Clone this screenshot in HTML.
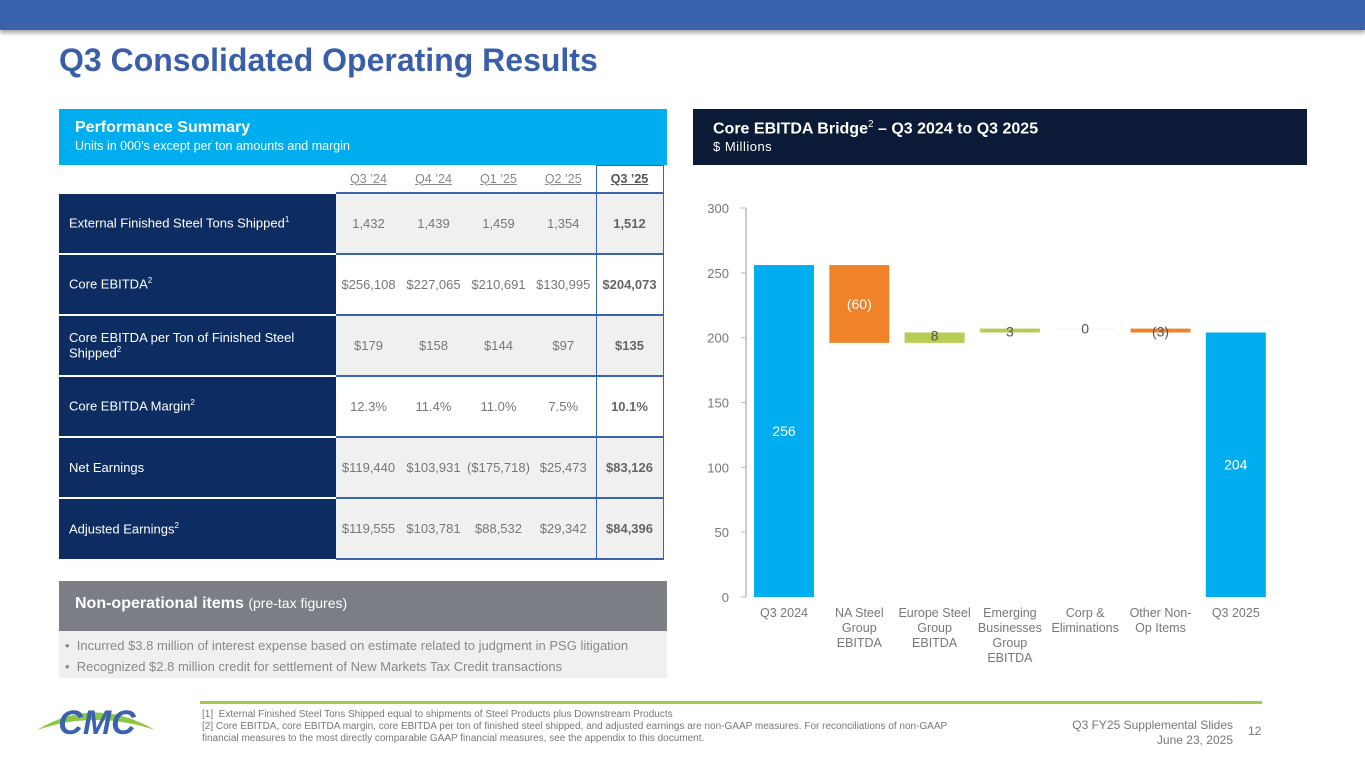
<!DOCTYPE html>
<html><head><meta charset="utf-8">
<style>
*{margin:0;padding:0;box-sizing:border-box}
body{width:1365px;height:768px;position:relative;background:#fff;font-family:"Liberation Sans",sans-serif;overflow:hidden}
.abs{position:absolute}
.topbar{left:0;top:0;width:1365px;height:30px;background:#3a62ad;box-shadow:0 3px 4px rgba(0,0,0,.35)}
.title{left:59px;top:42px;font-size:32px;font-weight:bold;color:#3a5ea8;letter-spacing:0}
.ps{left:59px;top:109px;width:608px;height:56px;background:#00aeef;color:#fff;padding:10px 16px}
.ps b{font-size:16px;display:block}
.ps span{font-size:12.5px}
table{position:absolute;left:59px;top:165px;border-collapse:collapse;font-size:13px;color:#777}
td,th{text-align:center;height:61px;padding:0}
th{height:27px;font-weight:normal;text-decoration:underline;color:#888;font-size:12.5px}
td.lab{width:277px;background:#0d2d62;color:#fff;text-align:left;padding-left:10px;border-top:2px solid #fff;font-size:13px}
td.d{width:65px;border-top:2px solid #3a62ad}
td.q{width:67px;font-weight:bold;color:#666;border-left:1.5px solid #3a62ad;border-right:1.5px solid #3a62ad;border-top:2px solid #3a62ad}
th.q{border:1.5px solid #3a62ad;border-bottom:none;font-weight:bold;color:#555}
tr.g td.d,tr.g td.q{background:#f0f0f0}
tr:last-child td.d,tr:last-child td.q{border-bottom:2px solid #3a62ad}
sup{font-size:8px}
.no{left:59px;top:581px;width:608px;height:50px;background:#7b7e84;color:#fff;padding:14px 16px;font-size:16px}
.nob{left:59px;top:631px;width:608px;height:47px;background:#f0f0f0;color:#888;font-size:13px;padding:4px 6px;line-height:21px}
.ch{left:693px;top:109px;width:614px;height:56px;background:#0b1a36;color:#fff;padding:10px 20px}
.ch b{font-size:16px;display:block}
.ch span{font-size:13px;letter-spacing:.5px}
.foot{font-size:10px;color:#777;line-height:12px}
</style></head><body>
<div class="abs topbar"></div>
<div class="abs title">Q3 Consolidated Operating Results</div>
<div class="abs ps"><b>Performance Summary</b><span>Units in 000’s except per ton amounts and margin</span></div>
<table>
<tr><th style="width:277px"></th><th>Q3 ’24</th><th>Q4 ’24</th><th>Q1 ’25</th><th>Q2 ’25</th><th class="q">Q3 ’25</th></tr>
<tr class="g"><td class="lab">External Finished Steel Tons Shipped<sup>1</sup></td><td class="d">1,432</td><td class="d">1,439</td><td class="d">1,459</td><td class="d">1,354</td><td class="q">1,512</td></tr>
<tr><td class="lab">Core EBITDA<sup>2</sup></td><td class="d">$256,108</td><td class="d">$227,065</td><td class="d">$210,691</td><td class="d">$130,995</td><td class="q">$204,073</td></tr>
<tr class="g"><td class="lab">Core EBITDA per Ton of Finished Steel<br>Shipped<sup>2</sup></td><td class="d">$179</td><td class="d">$158</td><td class="d">$144</td><td class="d">$97</td><td class="q">$135</td></tr>
<tr><td class="lab">Core EBITDA Margin<sup>2</sup></td><td class="d">12.3%</td><td class="d">11.4%</td><td class="d">11.0%</td><td class="d">7.5%</td><td class="q">10.1%</td></tr>
<tr class="g"><td class="lab">Net Earnings</td><td class="d">$119,440</td><td class="d">$103,931</td><td class="d">($175,718)</td><td class="d">$25,473</td><td class="q">$83,126</td></tr>
<tr class="g"><td class="lab">Adjusted Earnings<sup>2</sup></td><td class="d">$119,555</td><td class="d">$103,781</td><td class="d">$88,532</td><td class="d">$29,342</td><td class="q">$84,396</td></tr>
</table>
<div class="abs no"><b>Non-operational items</b> <span style="font-size:14px">(pre-tax figures)</span></div>
<div class="abs nob">•&nbsp; Incurred $3.8 million of interest expense based on estimate related to judgment in PSG litigation<br>•&nbsp; Recognized $2.8 million credit for settlement of New Markets Tax Credit transactions</div>
<div class="abs ch"><b>Core EBITDA Bridge<sup style="font-weight:normal;font-size:10px">2</sup> – Q3 2024 to Q3 2025</b><span>$ Millions</span></div>
<svg class="abs" style="left:0;top:0" width="1365" height="768" id="chart"></svg>
<svg class="abs" style="left:35px;top:700px" width="125" height="40">
<path d="M2 30 Q60 -5 120 30 Q60 10 2 30Z" fill="#8dc63f"/>
<text x="62" y="34" text-anchor="middle" font-family="Liberation Sans" font-weight="bold" font-style="italic" font-size="34" fill="#3a62ad">CMC</text>
</svg>
<div class="abs" style="left:200px;top:701px;width:1062px;height:3px;background:#a6c64c"></div>
<div class="abs foot" style="left:202px;top:709px;width:760px">[1]&nbsp; External Finished Steel Tons Shipped equal to shipments of Steel Products plus Downstream Products<br>[2] Core EBITDA, core EBITDA margin, core EBITDA per ton of finished steel shipped, and adjusted earnings are non-GAAP measures. For reconciliations of non-GAAP financial measures to the most directly comparable GAAP financial measures, see the appendix to this document.</div>
<div class="abs foot" style="left:1040px;top:718px;width:193px;text-align:right;font-size:12px;line-height:15px">Q3 FY25 Supplemental Slides<br>June 23, 2025</div>
<div class="abs foot" style="left:1248px;top:725px;font-size:12px">12</div>
<script>
const categories=["Q3 2024","NA Steel|Group|EBITDA","Europe Steel|Group|EBITDA","Emerging|Businesses|Group|EBITDA","Corp &|Eliminations","Other Non-|Op Items","Q3 2025"];
const values=[256,-60,8,3,0,-3,204];
const kinds=["total","delta","delta","delta","delta","delta","total"];
const labels=["256","(60)","8","3","0","(3)","204"];
const yTicks=[0,50,100,150,200,250,300];
const NS="http://www.w3.org/2000/svg";
const svg=document.getElementById('chart');
const y=v=>597-v*(389/300);
const x=i=>784+i*75.3;
const bw=60;
function mk(t,a){const e=document.createElementNS(NS,t);for(const k in a)e.setAttribute(k,a[k]);svg.appendChild(e);return e;}
const ax=mk('line',{x1:746,x2:746,y1:y(300),y2:y(0),stroke:'#bbb','stroke-width':1.5});


yTicks.forEach(t=>{
 mk('line',{x1:741,x2:746,y1:y(t),y2:y(t),stroke:'#bbb'});
 const tx=mk('text',{x:729,y:y(t)+5,'text-anchor':'end','font-size':13,fill:'#777','font-family':'Liberation Sans'});
 tx.textContent=t;
 
 
});
let cum=0;
values.forEach((v,i)=>{
 let a,b,col;
 if(kinds[i]==='total'){a=0;b=v;cum=v;col='#00aeef';}
 else{a=cum;b=cum+v;cum=b;col=v<0?'#f0822a':'#b5cd52';}
 const top=y(Math.max(a,b)),h=Math.max(Math.abs(y(a)-y(b)),v===0?0.8:0);
 const r=mk('rect',{x:x(i)-bw/2,y:top,width:bw,height:h,fill:v===0?'#eee':col});
 
 
 let ly,lc;
 if(kinds[i]==='total'){ly=y(v/2)+5;lc='#fff';}
 else if(Math.abs(v)>20){ly=(y(a)+y(b))/2+5;lc='#fff';}
 else{ly=y(Math.max(a,b))+ (v===0?5:8);lc='#555';}
 const t=mk('text',{x:x(i),y:ly,'text-anchor':'middle','font-size':14,fill:lc,'font-family':'Liberation Sans'});
 t.textContent=labels[i];
 
 
 categories[i].split('|').forEach((ln,j)=>{
  const c=mk('text',{x:x(i),y:617+j*15,'text-anchor':'middle','font-size':12.5,fill:'#777','font-family':'Liberation Sans'});
  c.textContent=ln;
  
  
 });
});
</script>
</body></html>
